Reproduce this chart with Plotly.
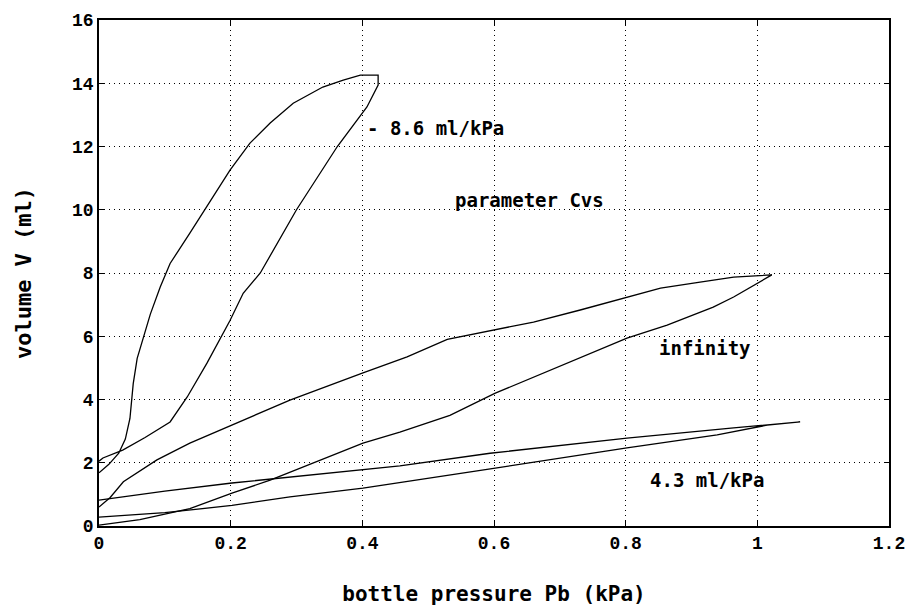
import plotly.graph_objects as go

# Loop for parameter Cvs = 8.6 ml/kPa
cvs86_p = [0, 0.015, 0.03, 0.04, 0.047, 0.052, 0.058, 0.065, 0.078, 0.093, 0.108, 0.138, 0.164,
           0.199, 0.229, 0.26, 0.295, 0.34, 0.371, 0.397, 0.424, 0.424, 0.407, 0.362, 0.30,
           0.245, 0.219, 0.199, 0.164, 0.134, 0.108, 0.07, 0.036, 0.006, 0]
cvs86_v = [1.68, 1.95, 2.3, 2.75, 3.4, 4.5, 5.3, 5.8, 6.7, 7.56, 8.3, 9.26, 10.1,
           11.25, 12.1, 12.74, 13.37, 13.88, 14.1, 14.26, 14.26, 13.94, 13.25, 12.0, 10.0,
           8.0, 7.36, 6.5, 5.15, 4.08, 3.29, 2.8, 2.4, 2.15, 2.05]

# Loop for parameter Cvs = infinity
inf_p = [0, 0.017, 0.037, 0.088, 0.138, 0.202, 0.29, 0.401, 0.468, 0.529, 0.602, 0.66, 0.731,
         0.802, 0.853, 0.913, 0.964, 1.022, 1.009, 0.964, 0.933, 0.863, 0.802, 0.711, 0.602,
         0.533, 0.457, 0.401, 0.29, 0.26, 0.202, 0.138, 0.062, 0]
inf_v = [0.6, 0.9, 1.4, 2.09, 2.62, 3.19, 3.98, 4.84, 5.35, 5.9, 6.2, 6.45, 6.83,
         7.24, 7.52, 7.71, 7.87, 7.94, 7.78, 7.24, 6.92, 6.35, 5.94, 5.15, 4.2,
         3.5, 2.97, 2.62, 1.7, 1.45, 1.04, 0.55, 0.2, 0.03]

# Loop for parameter Cvs = 4.3 ml/kPa
cvs43_p = [0, 0.1, 0.202, 0.301, 0.401, 0.457, 0.594, 0.7, 0.802, 0.964, 1.065,
           1.015, 0.939, 0.802, 0.602, 0.457, 0.401, 0.29, 0.202, 0.1, 0]
cvs43_v = [0.82, 1.1, 1.36, 1.57, 1.77, 1.9, 2.3, 2.55, 2.78, 3.1, 3.29,
           3.19, 2.88, 2.47, 1.83, 1.36, 1.2, 0.92, 0.65, 0.42, 0.28]

x_ticks = [0, 0.2, 0.4, 0.6, 0.8, 1, 1.2]
x_tick_labels = ["0", "0.2", "0.4", "0.6", "0.8", "1", "1.2"]
y_ticks = [0, 2, 4, 6, 8, 10, 12, 14, 16]
y_tick_labels = ["0", "2", "4", "6", "8", "10", "12", "14", "16"]

labels = ["- 8.6 ml/kPa", "parameter Cvs", "infinity", "4.3 ml/kPa"]
label_p = [0.404, 0.538, 0.848, 0.834]
label_v = [12.6, 10.3, 5.63, 1.45]

fig = go.Figure()
for px, vy in [(cvs86_p, cvs86_v), (inf_p, inf_v), (cvs43_p, cvs43_v)]:
    fig.add_trace(go.Scatter(x=px, y=vy, mode="lines",
                             line=dict(color="black", width=1.3), showlegend=False))

textfont = dict(family="DejaVu Sans Mono", size=19, color="black", weight="bold")
for t, xp, yv in zip(labels, label_p, label_v):
    fig.add_annotation(x=xp, y=yv, text=t, showarrow=False, xanchor="left",
                       yanchor="middle", font=textfont)

tickfont = dict(family="Liberation Mono", size=18, color="black", weight="bold")
axis_common = dict(showline=True, linecolor="black", linewidth=1.5, mirror="ticks",
                   ticks="inside", ticklen=5, tickcolor="black",
                   showgrid=True, gridcolor="black", griddash="1px,4px", gridwidth=1,
                   zeroline=False, tickfont=tickfont, automargin=False)

fig.update_xaxes(range=[0, 1.2], tickvals=x_ticks, ticktext=x_tick_labels,
                 title=dict(text="bottle pressure Pb (kPa)", standoff=33,
                            font=dict(family="DejaVu Sans Mono", size=21, color="black",
                                      weight="bold")),
                 **axis_common)
fig.update_yaxes(range=[0, 16], tickvals=y_ticks, ticktext=y_tick_labels,
                 title=dict(text="volume V (ml)", standoff=34,
                            font=dict(family="DejaVu Sans Mono", size=22, color="black",
                                      weight="bold")),
                 **axis_common)

fig.update_layout(width=908, height=609, plot_bgcolor="white", paper_bgcolor="white",
                  margin=dict(l=99, r=19, t=20, b=83))

# remove the default page margin so the figure fills the window exactly
fig.write_html("out.html", config={"displayModeBar": False},
               post_script="document.body.style.margin='0';document.body.style.overflow='hidden';")
